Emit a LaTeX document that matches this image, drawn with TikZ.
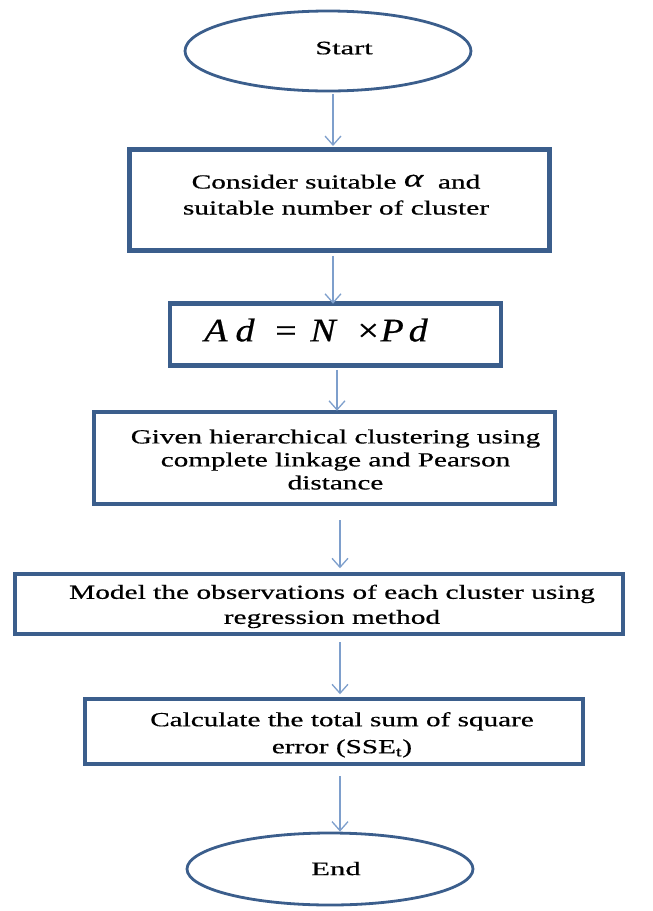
\documentclass[tikz,border=0pt]{standalone}
\usepackage{fontspec}
\setmainfont{Liberation Serif}[FakeBold=0.5]
\usetikzlibrary{shapes.geometric,arrows.meta}
\definecolor{boxblue}{HTML}{3B5E8C}
\definecolor{arrblue}{HTML}{7E9FCC}
\newcommand\widetext[3][1.47]{\scalebox{#1}[1]{\fontsize{20}{#2}\selectfont\begin{tabular}{@{}c@{}}#3\end{tabular}}}
\begin{document}
\begin{tikzpicture}[x=1pt,y=-1pt,
  boxst/.style={draw=boxblue,line width=4.5pt,fill=white,align=center,inner sep=0pt},
  ovalst/.style={ellipse,draw=boxblue,line width=2.8pt,inner sep=0pt,align=center},
  arr/.style={draw=arrblue,line width=1.3pt,-{Straight Barb[length=9pt,width=16pt,line width=1.3pt]}}
]
\useasboundingbox (0,0) rectangle (653,911);
\node[ovalst,minimum width=286pt,minimum height=80pt] (start) at (328,51) {\hspace{32pt}\raisebox{6pt}{\scalebox{1.6}[1]{\fontsize{19}{22}\selectfont Start}}};
\node[boxst,minimum width=420pt,minimum height=101pt] (b1) at (339.5,200) {\raisebox{-1.5pt}[0pt][0pt]{\widetext[1.47]{26}{Consider suitable \raisebox{2pt}{\fontsize{25}{25}\selectfont\itshape α}\ \ and\\suitable number of cluster}}\hspace{7pt}};
\node[boxst,minimum width=331pt,minimum height=62pt] (b2) at (335.5,334.5) {\raisebox{-6.9pt}[0pt][0pt]{\scalebox{1.15}[1]{\fontsize{33}{33}\selectfont\itshape A\hspace{7pt}d\hspace{18pt}\upshape =\hspace{12pt}\itshape N\hspace{19pt}\upshape ×\hspace{1.4pt}\itshape P\hspace{4.3pt}d}}\hspace{39pt}};
\node[boxst,minimum width=461pt,minimum height=92pt] (b3) at (324.5,458) {\hspace{22pt}\raisebox{-9pt}[0pt][0pt]{\widetext[1.46]{23}{Given hierarchical clustering using\\complete linkage and Pearson\\distance}}};
\node[boxst,minimum width=608pt,minimum height=60pt] (b4) at (319,604) {\hspace{26pt}\raisebox{-7.5pt}[0pt][0pt]{\widetext{25}{Model the observations of each cluster using\\regression method}}};
\node[boxst,minimum width=498pt,minimum height=65pt] (b5) at (334,731.5) {\hspace{16pt}\raisebox{-8pt}[0pt][0pt]{\widetext[1.46]{27}{Calculate the total sum of square\\error (SSE\textsubscript{t})}}};
\node[ovalst,minimum width=286pt,minimum height=72pt] (end) at (330,869) {\hspace{12pt}\raisebox{1pt}{\scalebox{1.62}[1]{\fontsize{19}{22}\selectfont End}}};
\coordinate (a1s) at (333,94);
\coordinate (a1e) at (333,146);
\draw[arr] (a1s) -- (a1e);
\draw[arr] ([xshift=-6.5pt]b1.south) ++(0,3) coordinate (a2s) -- ++(0,48);
\draw[arr] (b2.south) ++(1.5,2) -- ++(0,41);
\draw[arr] (b3.south) ++(15.5,14) -- ++(0,48);
\draw[arr] (b4.south) ++(21,6) -- ++(0,52);
\draw[arr] (b5.south) ++(6,10) -- (end.north -| 340,0);
\end{tikzpicture}
\end{document}
